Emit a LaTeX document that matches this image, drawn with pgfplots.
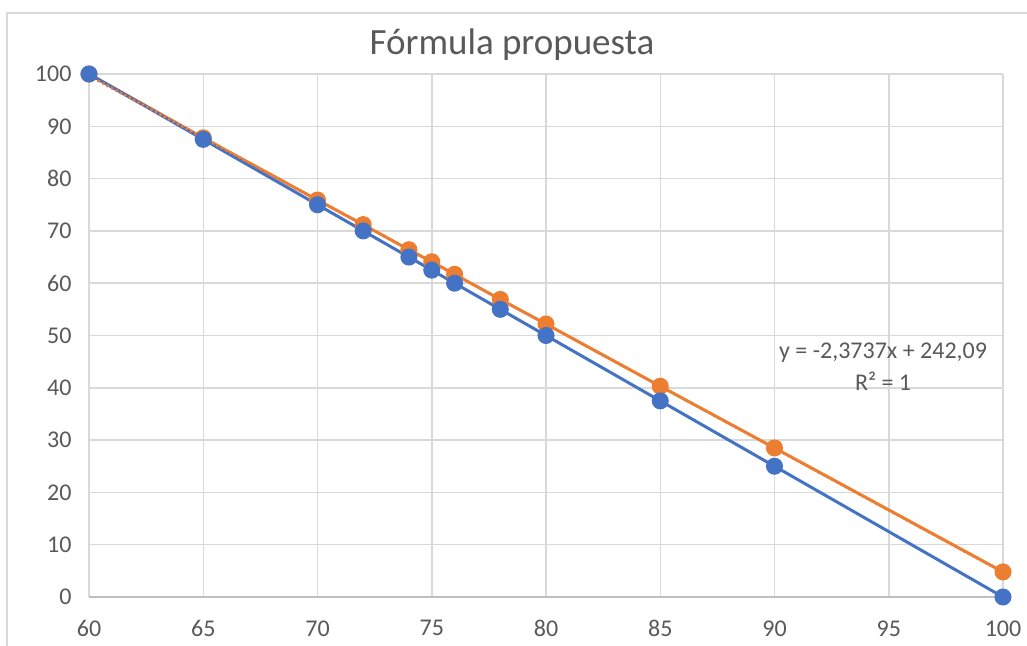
\documentclass[border=0pt]{standalone}
\usepackage{pgfplots}
\pgfplotsset{compat=1.18}
\usepackage{fontspec}
\setmainfont{Carlito}
\definecolor{xblue}{HTML}{4472C4}
\definecolor{xorange}{HTML}{ED7D31}
\definecolor{xgrid}{HTML}{D9D9D9}
\definecolor{xaxisc}{HTML}{BFBFBF}
\definecolor{xtext}{HTML}{595959}
\begin{document}
\begin{tikzpicture}
\useasboundingbox (-89bp,-49bp) rectangle (938bp,597bp);
\fill[white] (-89bp,-49bp) rectangle (938bp,597bp);
\draw[xgrid, line width=1.5bp] (-82bp,-60bp) -- (-82bp,584bp) -- (950bp,584bp);
\node[text=xtext, font=\fontsize{37bp}{43bp}\selectfont] at (423bp,552bp) {Fórmula propuesta};
\begin{axis}[
  at={(0,0)}, anchor=south west,
  scale only axis, width=914bp, height=523bp,
  xmin=60, xmax=100, ymin=0, ymax=100,
  xtick={60,65,...,100}, ytick={0,10,...,100},
  grid=major, major grid style={xgrid, line width=1.5bp},
  axis x line*=bottom, axis y line*=left,
  x axis line style={xaxisc, line width=1.5bp, -},
  y axis line style={draw=none},
  tick style={draw=none},
  ticklabel style={font=\fontsize{24bp}{28bp}\selectfont, text=xtext},
  yticklabel style={xshift=-14bp},
  xticklabel style={yshift=-20bp},
  /pgf/number format/assume math mode=true,
  clip=false,
]
\addplot[xorange, line width=3bp, mark=*, mark size=7bp, mark options={solid, draw=none, fill=xorange}] coordinates {
(60,100) (65,87.8) (70,75.9) (72,71.2) (74,66.4) (75,64.1) (76,61.7) (78,56.9) (80,52.2) (85,40.3) (90,28.5) (100,4.8)};
\addplot[xblue, line width=3bp, mark=*, mark size=7bp, mark options={solid, draw=none, fill=xblue}] coordinates {
(60,100) (65,87.5) (70,75) (72,70) (74,65) (75,62.5) (76,60) (78,55) (80,50) (85,37.5) (90,25) (100,0)};
\addplot[xorange, line width=2.5bp, dash pattern=on 2.5bp off 2.5bp] coordinates {(60,99.67) (100,4.72)};
\node[text=xtext, font=\fontsize{24bp}{28bp}\selectfont] at (axis cs:94.75,46.8) {y = -2,3737x + 242,09};
\node[text=xtext, font=\fontsize{24bp}{28bp}\selectfont] at (axis cs:94.75,41.3) {R² = 1};
\end{axis}
\end{tikzpicture}
\end{document}
